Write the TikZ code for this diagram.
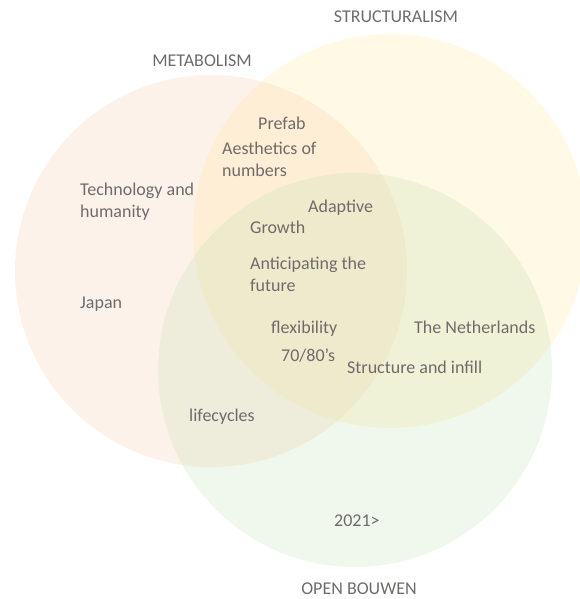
\documentclass[tikz,border=0pt]{standalone}
\usepackage{fontspec}
\setmainfont{Carlito}
\begin{document}
\definecolor{metafill}{HTML}{F8CBAD}
\definecolor{structfill}{HTML}{FFE699}
\definecolor{openfill}{HTML}{C5E0B4}
\definecolor{labelgray}{HTML}{706B6B}
\begin{tikzpicture}[x=1pt,y=-1pt,
  lbl/.style={anchor=base west,inner sep=0pt,text=labelgray,align=left,
    font=\fontsize{18}{22}\selectfont},
  title/.style={anchor=base,inner sep=0pt,text=labelgray,
    font=\fontsize{18}{22}\selectfont},
  set/.style={fill opacity=0.26,draw=none}]
\useasboundingbox (0,0) rectangle (579,599);
% the three movements
\fill[set,fill=metafill]   (211,271) circle [radius=196pt];
\fill[set,fill=structfill] (390,231) circle [radius=197pt];
\fill[set,fill=openfill]   (355,370) circle [radius=197pt];
% titles
\node[title] (structuralism) at (396,23) {STRUCTURALISM};
\node[title] (metabolism)    at (202,67) {METABOLISM};
\node[title] (openbouwen)    at (359,594) {OPEN BOUWEN};
% themes (multi-line labels are placed by the baseline of their last line)
\node[lbl] (prefab)      at (258,129) {Prefab};
\node[lbl] (aesthetics)  at (222,176) {Aesthetics of\\numbers};
\node[lbl] (technology)  at (80,217)  {Technology and\\humanity};
\node[lbl] (adaptive)    at (308,212) {Adaptive};
\node[lbl] (growth)      at (250,233) {Growth};
\node[lbl] (anticipate)  at (250,291) {Anticipating the\\future};
\node[lbl] (japan)       at (80,308)  {Japan};
\node[lbl] (flexibility) at (271,333) {flexibility};
\node[lbl] (netherlands) at (414,333) {The Netherlands};
\node[lbl] (seventies)   at (281,361) {70/80’s};
\node[lbl] (structure)   at (347,373) {Structure and infill};
\node[lbl] (lifecycles)  at (189,421) {lifecycles};
\node[lbl] (present)     at (334,526) {2021>};
\end{tikzpicture}
\end{document}
